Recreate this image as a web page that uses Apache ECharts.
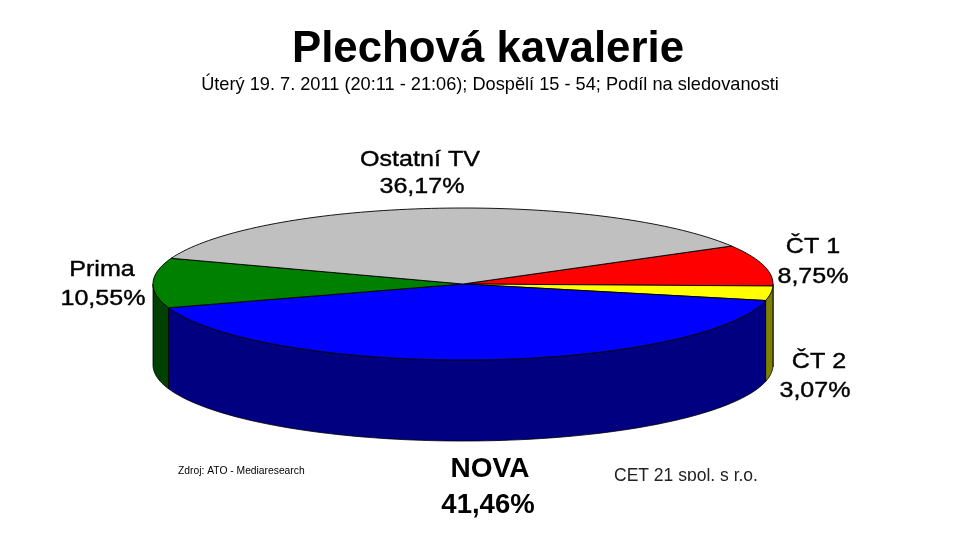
<!DOCTYPE html>
<html>
<head>
<meta charset="utf-8">
<style>html,body{margin:0;padding:0;background:#fff}#c{width:959px;height:541px}</style>
<script src="https://cdn.jsdelivr.net/npm/echarts@6/dist/echarts.min.js"></script>
</head>
<body>
<div id="c"></div>
<script>
const names = ['ČT 1', 'ČT 2', 'NOVA', 'Prima', 'Ostatní TV'];
const shares = [8.75, 3.07, 41.46, 10.55, 36.17];
const topColors = ['#ff0000', '#ffff00', '#0000ff', '#008000', '#c0c0c0'];
const sideColors = ['#800000', '#808000', '#000080', '#004000', '#606060'];
const titleText = 'Plechová kavalerie';
const subtitleText = 'Úterý 19. 7. 2011 (20:11 - 21:06); Dospělí 15 - 54; Podíl na sledovanosti';
const sourceText = 'Zdroj: ATO - Mediaresearch';
const ownerText = 'CET 21 spol. s r.o.';
const fmt = v => v.toFixed(2).replace('.', ',') + '%';

const START_ANGLE = 30;
const DEPTH = 1.066;
const arcs = [];
let acc = START_ANGLE;
shares.forEach(s => { arcs.push([acc, acc - s * 3.6]); acc -= s * 3.6; });

function pt(api, deg, drop) {
  const r = deg * Math.PI / 180;
  return api.coord([Math.cos(r), Math.sin(r) - (drop || 0)]);
}
function arcPts(api, a0, a1, drop) {
  const n = Math.max(2, Math.ceil(Math.abs(a0 - a1) / 1.5));
  const out = [];
  for (let i = 0; i <= n; i++) out.push(pt(api, a0 + (a1 - a0) * i / n, drop));
  return out;
}
function renderSide(params, api) {
  const i = params.dataIndex;
  const ranges = [[0, -180], [-360, -540]];
  const kids = [];
  ranges.forEach(([hi, lo]) => {
    const a0 = Math.min(api.value(0), hi), a1 = Math.max(api.value(1), lo);
    if (a0 <= a1) return;
    const upper = arcPts(api, a0, a1, 0);
    const lower = arcPts(api, a1, a0, DEPTH);
    kids.push({ type: 'polygon', shape: { points: upper.concat(lower) },
      style: { fill: sideColors[i], stroke: '#000', lineWidth: 0.8 } });
  });
  return { type: 'group', children: kids };
}
function renderTop(params, api) {
  const i = params.dataIndex;
  const pts = [api.coord([0, 0])].concat(arcPts(api, api.value(0), api.value(1), 0));
  return { type: 'polygon', shape: { points: pts },
    style: { fill: topColors[i], stroke: '#000', lineWidth: 0.9 } };
}

const font = 'Liberation Sans, Arial, sans-serif';
function label(x, y, text, size, weight, sx, ink) {
  return { type: 'text', x: x, y: y, z: 10, scaleX: sx || 1,
    style: { text: text, fill: '#000', stroke: '#000', lineWidth: ink || 0, font: `${weight} ${size}px ${font}`, textAlign: 'center', textVerticalAlign: 'middle' } };
}
const labelPlaces = [[813, 247, 813, 277], [819, 362, 815, 391], [490, 469, 488, 505], [102, 270, 103, 299], [420, 160, 422, 187]];
const graphics = [];
names.forEach((n, i) => {
  const p = labelPlaces[i];
  if (i === 2) {
    graphics.push(label(p[0], p[1], n, 28, 'bold'));
    graphics.push(label(p[2], p[3], fmt(shares[i]), 27.5, 'bold'));
  } else {
    graphics.push(label(p[0], p[1], n, 22, 'normal', 1.14, 0.4));
    graphics.push(label(p[2], p[3], fmt(shares[i]), 22, 'normal', 1.14, 0.4));
  }
});
graphics.push(label(490, 85, subtitleText, 18.2, 'normal'));
graphics.push({ type: 'text', x: 178, y: 471, z: 10, style: { text: sourceText, fill: '#000', font: `10.3px ${font}`, textVerticalAlign: 'middle' } });
graphics.push({ type: 'text', x: 614, y: 476, z: 10, style: { text: ownerText, fill: '#222', font: `17.5px ${font}`, textVerticalAlign: 'middle' } });
graphics.push({ type: 'rect', z: 11, shape: { x: 600, y: 481, width: 180, height: 20 }, style: { fill: '#fff' } });

const chart = echarts.init(document.getElementById('c'), null, { renderer: 'canvas' });
chart.setOption({
  backgroundColor: '#fff',
  animation: false,
  title: [
    { text: titleText, left: 483, top: 23, textAlign: 'center',
      textStyle: { fontFamily: font, fontWeight: 'bold', fontSize: 43.8, color: '#000' } }
  ],
  grid: { left: 153, top: 208, width: 620, height: 152, containLabel: false },
  xAxis: { type: 'value', min: -1, max: 1, show: false },
  yAxis: { type: 'value', min: -1, max: 1, show: false },
  graphic: graphics,
  series: [
    { type: 'custom', coordinateSystem: 'cartesian2d', renderItem: renderSide, data: arcs, clip: false, z: 1, silent: true },
    { type: 'custom', coordinateSystem: 'cartesian2d', renderItem: renderTop, data: arcs, clip: false, z: 2, silent: true }
  ]
});
</script>
</body>
</html>
